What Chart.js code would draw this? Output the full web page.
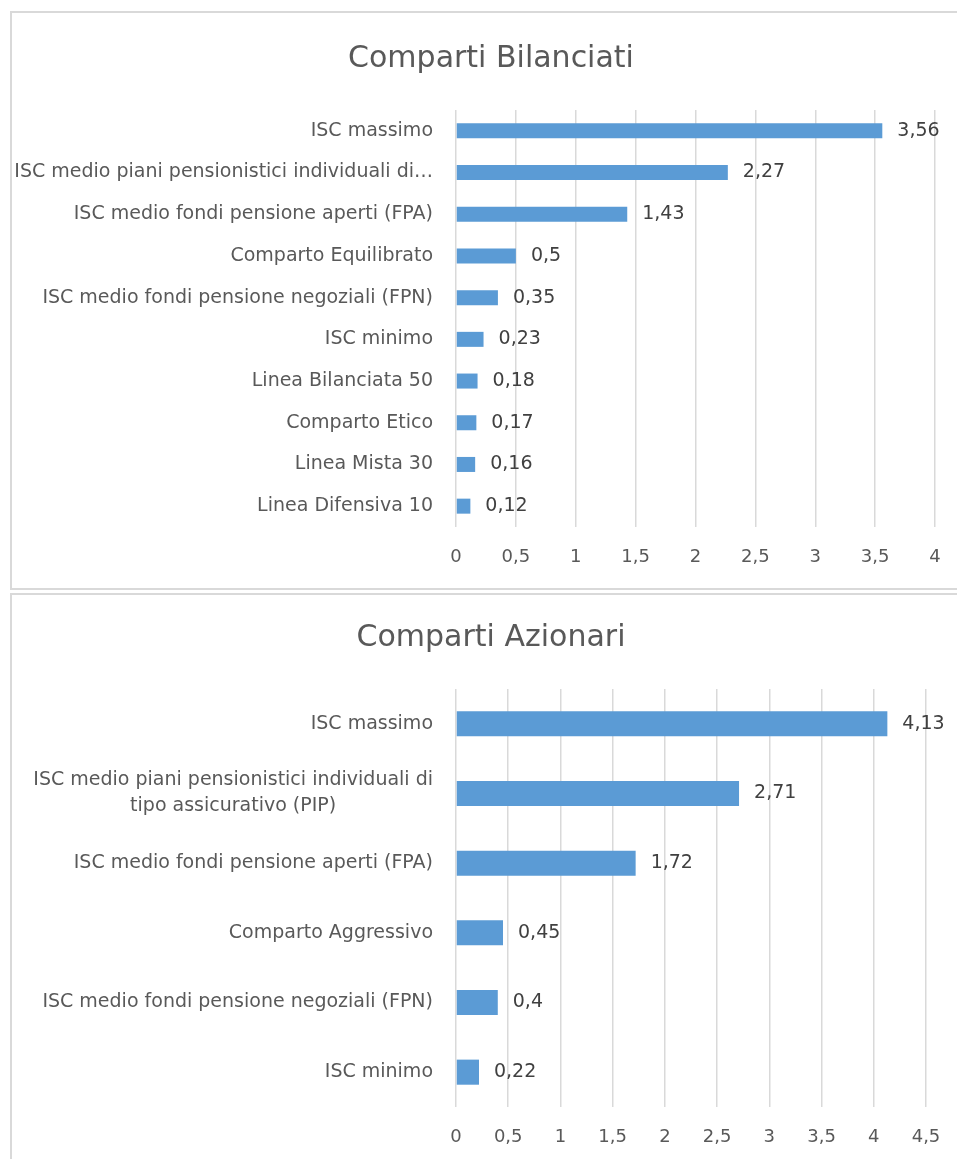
<!DOCTYPE html>
<html lang="it">
<head>
  <meta charset="UTF-8">
  <title>ISC - Comparti Bilanciati e Azionari</title>
  <script src="https://cdn.jsdelivr.net/npm/chart.js"></script>
  <style>
    * { margin: 0; padding: 0; box-sizing: border-box; }
    body { width: 957px; height: 1159px; overflow: hidden; background: #fff; }
    /* each chart sits in a light grey frame, wider than the window */
    .frame { position: absolute; left: 10px; width: 962px; border: 2px solid #d9d9d9; background: #fff; }
    #frame1 { top: 11px; height: 579px; }
    #frame2 { top: 593px; height: 600px; }
    canvas { display: block; }
  </style>
</head>
<body>
  <div class="frame" id="frame1"><canvas id="bilanciati" width="958" height="575"></canvas></div>
  <div class="frame" id="frame2"><canvas id="azionari" width="958" height="596"></canvas></div>

  <script>
    // --- data ---
    const bilanciatiLabels = [
      'ISC massimo',
      'ISC medio piani pensionistici individuali di\u2026',
      'ISC medio fondi pensione aperti (FPA)',
      'Comparto Equilibrato',
      'ISC medio fondi pensione negoziali (FPN)',
      'ISC minimo',
      'Linea Bilanciata 50',
      'Comparto Etico',
      'Linea Mista 30',
      'Linea Difensiva 10'
    ];
    const bilanciatiValues = [3.56, 2.27, 1.43, 0.5, 0.35, 0.23, 0.18, 0.17, 0.16, 0.12];
    const bilanciatiMax = 4;

    const azionariLabels = [
      'ISC massimo',
      ['ISC medio piani pensionistici individuali di', 'tipo assicurativo (PIP)'],
      'ISC medio fondi pensione aperti (FPA)',
      'Comparto Aggressivo',
      'ISC medio fondi pensione negoziali (FPN)',
      'ISC minimo'
    ];
    const azionariValues = [4.13, 2.71, 1.72, 0.45, 0.4, 0.22];
    const azionariMax = 4.5;

    const tickStep = 0.5;

    const FONT = '"DejaVu Sans", sans-serif';

    // Italian decimal comma
    const fmt = v => String(v).replace('.', ',');

    Chart.defaults.font.family = FONT;
    Chart.defaults.color = '#595959';

    // category names, right aligned next to the plot; wrapped names are centred line by line
    const categoryLabels = {
      id: 'categoryLabels',
      afterDraw(chart, args, opts) {
        const ctx = chart.ctx;
        const yScale = chart.scales.y;
        ctx.save();
        ctx.font = opts.size + 'px ' + FONT;
        ctx.fillStyle = '#595959';
        ctx.textBaseline = 'middle';
        ctx.textAlign = 'center';
        chart.data.labels.forEach((label, i) => {
          const lines = Array.isArray(label) ? label : [label];
          const w = Math.max(...lines.map(l => ctx.measureText(l).width));
          const cx = chart.chartArea.left - opts.gap - w / 2;
          const cy = yScale.getPixelForValue(i);
          lines.forEach((l, k) => {
            ctx.fillText(l, cx, cy + (k - (lines.length - 1) / 2) * opts.lineHeight);
          });
        });
        ctx.restore();
      }
    };

    // value printed just past the end of each bar
    const valueLabels = {
      id: 'valueLabels',
      afterDatasetsDraw(chart, args, opts) {
        const ctx = chart.ctx;
        const data = chart.data.datasets[0].data;
        ctx.save();
        ctx.font = opts.size + 'px ' + FONT;
        ctx.fillStyle = '#404040';
        ctx.textBaseline = 'middle';
        ctx.textAlign = 'left';
        chart.getDatasetMeta(0).data.forEach((bar, i) => {
          ctx.fillText(fmt(data[i]), bar.x + opts.gap, bar.y);
        });
        ctx.restore();
      }
    };

    function makeChart(id, title, labels, values, max, lay) {
      return new Chart(document.getElementById(id), {
        type: 'bar',
        data: {
          labels: labels,
          datasets: [{
            data: values,
            backgroundColor: '#5b9bd5',
            categoryPercentage: 1,
            barPercentage: 0.36
          }]
        },
        options: {
          indexAxis: 'y',
          responsive: false,
          animation: false,
          layout: { padding: { left: lay.side, right: lay.side, top: 0, bottom: 0 } },
          plugins: {
            legend: { display: false },
            tooltip: { enabled: false },
            title: {
              display: true,
              text: title,
              color: '#595959',
              font: { size: 30, weight: 'normal' },
              padding: { top: lay.titleTop, bottom: lay.titleBottom }
            },
            categoryLabels: { size: 19, gap: 23, lineHeight: 26 },
            valueLabels: { size: 19, gap: 15 }
          },
          scales: {
            x: {
              min: 0,
              max: max,
              ticks: {
                stepSize: tickStep,
                padding: 20,
                color: '#595959',
                font: { size: 18 },
                maxRotation: 0,
                callback: v => fmt(v)
              },
              grid: { color: '#d9d9d9', lineWidth: 1.5, drawTicks: false },
              border: { display: false },
              afterFit: s => { s.height = lay.xHeight; }
            },
            y: {
              ticks: { display: false },
              grid: { display: false },
              border: { display: false },
              afterFit: s => { s.width = lay.yWidth; }
            }
          }
        },
        plugins: [categoryLabels, valueLabels]
      });
    }

    makeChart('bilanciati', 'Comparti Bilanciati', bilanciatiLabels, bilanciatiValues, bilanciatiMax,
      { side: 35, yWidth: 409, titleTop: 28, titleBottom: 33, xHeight: 61 });

    makeChart('azionari', 'Comparti Azionari', azionariLabels, azionariValues, azionariMax,
      { side: 44, yWidth: 400, titleTop: 25, titleBottom: 33, xHeight: 84 });
  </script>
</body>
</html>
